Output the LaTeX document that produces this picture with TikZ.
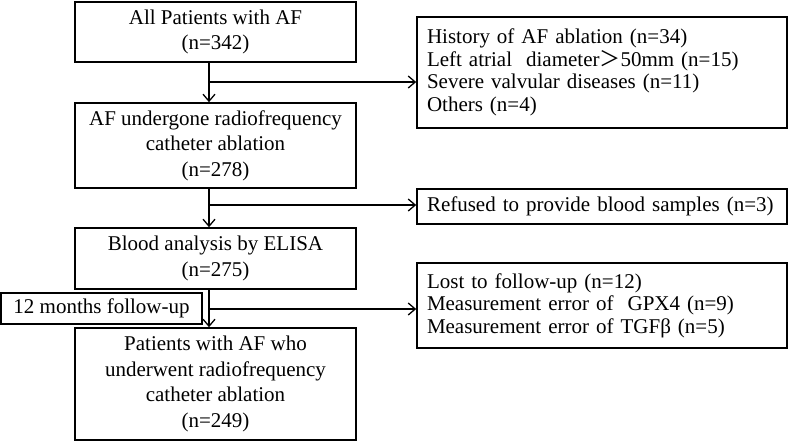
\documentclass[tikz,border=0pt]{standalone}
\usepackage{fontspec}
\setmainfont{Liberation Serif}
\newfontfamily\cjk{Noto Sans CJK SC}
\usetikzlibrary{arrows.meta,calc}
\begin{document}
\begin{tikzpicture}[x=1pt,y=-1pt,
  mainbox/.style={draw,line width=1.6pt,minimum width=281pt,inner sep=0pt,align=center,
    font=\fontsize{21}{25.5}\selectfont},
  sidebox/.style={draw,line width=1.6pt,text width=350pt,inner xsep=10pt,inner ysep=0pt,align=left,
    font=\fontsize{21}{22.5}\selectfont},
  flow/.style={line width=1.3pt,-{Straight Barb[length=7pt,width=12pt,line width=1.3pt]}}]
\useasboundingbox (0,0) rectangle (789,442);
\node[mainbox,minimum height=60pt] (b1) at (215.5,32) {All Patients with AF\\(n=342)};
\node[mainbox,minimum height=85pt] (b2) at (215.5,145.5) {AF undergone radiofrequency\\catheter ablation\\(n=278)};
\node[mainbox,minimum height=61pt] (b3) at (215.5,258.5) {Blood analysis by ELISA\\(n=275)};
\node[mainbox,minimum height=112pt] (b4) at (215.5,384) {Patients with AF who\\underwent radiofrequency\\catheter ablation\\(n=249)};
\node[draw,line width=1.6pt,minimum width=201pt,minimum height=31pt,inner sep=0pt,
  font=\fontsize{21}{25}\selectfont] (fu) at (101.5,308.5) {12 months follow-up};
\node[sidebox,minimum height=111pt] (r1) at (602,72.5) {History of AF ablation (n=34)\\Left atrial\ \ diameter{\cjk ＞}50mm (n=15)\\Severe valvular diseases (n=11)\\Others (n=4)};
\node[sidebox,minimum height=35pt] (r2) at (602,206.5) {Refused to provide blood samples (n=3)};
\node[sidebox,minimum height=85pt] (r3) at (602,305.5) {Lost to follow-up (n=12)\\Measurement error of\ \ GPX4 (n=9)\\Measurement error of TGFβ (n=5)};
\coordinate (s) at (209,0);
\coordinate (j1) at (209,82);
\coordinate (j2) at (209,205);
\coordinate (j3) at (209,309);
\draw[flow] (b1.south -| s) -- (b2.north -| s);
\draw[flow] (b2.south -| s) -- (b3.north -| s);
\draw[flow] (b3.south -| s) -- (b4.north -| s);
\draw[flow] (j1) -- (j1 -| r1.west);
\draw[flow] (j2) -- (j2 -| r2.west);
\draw[flow] (j3) -- (j3 -| r3.west);
\end{tikzpicture}
\end{document}
